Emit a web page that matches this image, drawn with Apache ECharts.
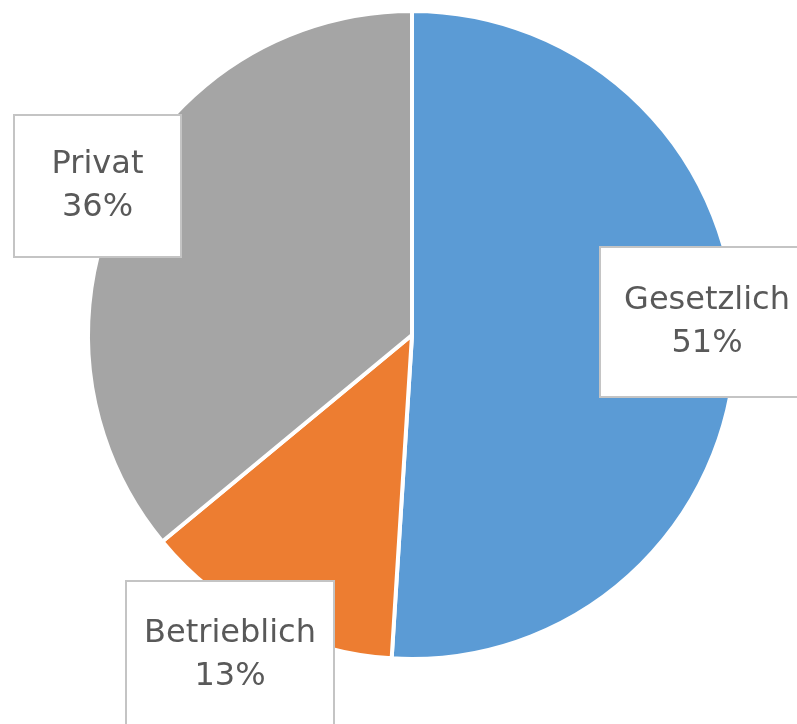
<!DOCTYPE html>
<html>
<head>
<meta charset="utf-8">
<script src="https://cdn.jsdelivr.net/npm/echarts@6/dist/echarts.min.js"></script>
<style>
html,body{margin:0;padding:0;background:#fff;}
#c{width:797px;height:724px;}
</style>
</head>
<body>
<div id="c"></div>
<script>
const categories = ['Gesetzlich', 'Betrieblich', 'Privat'];
const values = [51, 13, 36];
const colors = ['#5B9BD5', '#ED7D31', '#A5A5A5'];

// label box placement (layout only)
const labelBoxes = [
  {x: 707, y: 322, w: 200, pad: [31, 6]},
  {x: 230, y: 655, w: 194, pad: [30, 6]},
  {x: 97.5, y: 186, w: 153, pad: [27, 6]}
];

const chart = echarts.init(document.getElementById('c'), null, {renderer: 'canvas'});
chart.setOption({
  animation: false,
  backgroundColor: '#fff',
  series: [{
    type: 'pie',
    center: [412, 335],
    radius: 324,
    startAngle: 90,
    clockwise: true,
    avoidLabelOverlap: false,
    emphasis: {disabled: true},
    itemStyle: {borderColor: '#fff', borderWidth: 4},
    labelLine: {show: false},
    data: categories.map((c, i) => ({
      name: c,
      value: values[i],
      itemStyle: {color: colors[i]},
      label: {
        width: labelBoxes[i].w,
        padding: labelBoxes[i].pad
      }
    })),
    label: {
      show: true,
      position: 'outside',
      formatter: p => p.name + '\n' + Math.round(p.percent) + '%',
      fontFamily: 'DejaVu Sans',
      fontSize: 32,
      lineHeight: 43,
      color: '#595959',
      align: 'center',
      verticalAlign: 'middle',
      backgroundColor: '#fff',
      borderColor: '#c4c4c4',
      borderWidth: 2,
      overflow: 'none'
    },
    labelLayout: function (params) {
      const b = labelBoxes[params.dataIndex];
      return {x: b.x, y: b.y, align: 'center', verticalAlign: 'middle'};
    }
  }]
});
</script>
</body>
</html>
